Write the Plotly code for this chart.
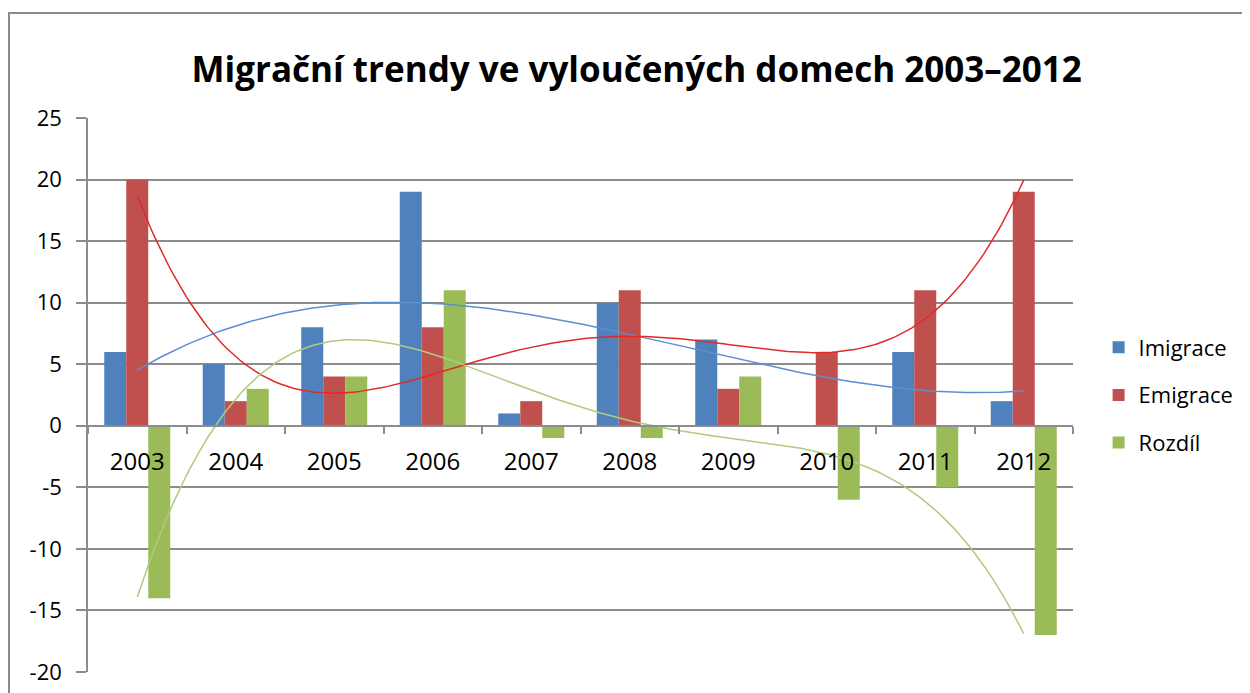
import numpy as np
import plotly.graph_objects as go

years = [2003, 2004, 2005, 2006, 2007, 2008, 2009, 2010, 2011, 2012]
year_labels = [str(y) for y in years]
imigrace = [6, 5, 8, 19, 1, 10, 7, 0, 6, 2]
emigrace = [20, 2, 4, 8, 2, 11, 3, 6, 11, 19]
rozdil = [-14, 3, 4, 11, -1, -1, 4, -6, -5, -17]
y_ticks = [-20, -15, -10, -5, 0, 5, 10, 15, 20, 25]
y_tick_labels = [str(v) for v in y_ticks]  # plain hyphen minus as in reference

series = [
    ("Imigrace", imigrace, "#4F81BD", "#5A8ED0", 3),
    ("Emigrace", emigrace, "#C0504D", "#E02A2A", 4),
    ("Rozdíl", rozdil, "#9BBB59", "#AECB7E", 4),
]

FONT = "Open Sans"
fig = go.Figure()
idx = np.arange(1, len(years) + 1)
xs = np.linspace(1, len(years), 200)
for name, vals, col, tcol, deg in series:
    fig.add_trace(go.Bar(x=years, y=vals, name=name, marker_color=col,
                         marker_line_width=0, legendgroup=name))
for name, vals, col, tcol, deg in series:
    coef = np.polyfit(idx, vals, deg)
    fig.add_trace(go.Scatter(x=xs + years[0] - 1, y=np.polyval(coef, xs), mode="lines",
                             line=dict(color=tcol, width=1.5), showlegend=False,
                             hoverinfo="skip"))

grid = "#8C8C8C"
fig.update_layout(
    width=1250, height=693,
    margin=dict(l=80, r=185, t=110, b=29),
    paper_bgcolor="white", plot_bgcolor="white",
    barmode="group", bargap=0.33, bargroupgap=0,
    font=dict(family=FONT, size=22, color="#000000"),
    title=dict(text="<b>Migrační trendy ve vyloučených domech 2003–2012</b>",
               x=0.503, xanchor="center", y=1 - 62 / 693, yanchor="middle",
               yref="container", font=dict(family=FONT, size=35, color="#000000")),
    legend=dict(x=1.026, xanchor="left", y=0.5, yanchor="middle",
                font=dict(family=FONT, size=22), tracegroupgap=16,
                bgcolor="rgba(0,0,0,0)"),
    xaxis=dict(range=[2002.5, 2012.5], tickvals=years, ticktext=year_labels,
               ticks="", showgrid=False, showline=True, linecolor=grid, linewidth=1.5,
               anchor="free", position=20 / 45, ticklabelstandoff=15,
               zeroline=False, tickfont=dict(size=24),
               minor=dict(tick0=2002.5, dtick=1, ticks="outside", ticklen=7,
                          tickcolor=grid, tickwidth=1.5, showgrid=False)),
    yaxis=dict(range=[-20, 25], tickvals=y_ticks, ticktext=y_tick_labels,
               showgrid=True, gridcolor=grid,
               gridwidth=1.5, showline=True, linecolor=grid, linewidth=1.5,
               ticks="outside", ticklen=10, tickcolor=grid, tickwidth=1.5,
               zeroline=False, ticklabelstandoff=10),
    shapes=[dict(type="rect", xref="paper", yref="paper",
                 x0=(9 - 88) / 985, x1=1.3, y0=-0.2, y1=(672 - 13) / 554,
                 line=dict(color="#8A8A8A", width=2), layer="below")],
)
fig.write_html("out.html")
